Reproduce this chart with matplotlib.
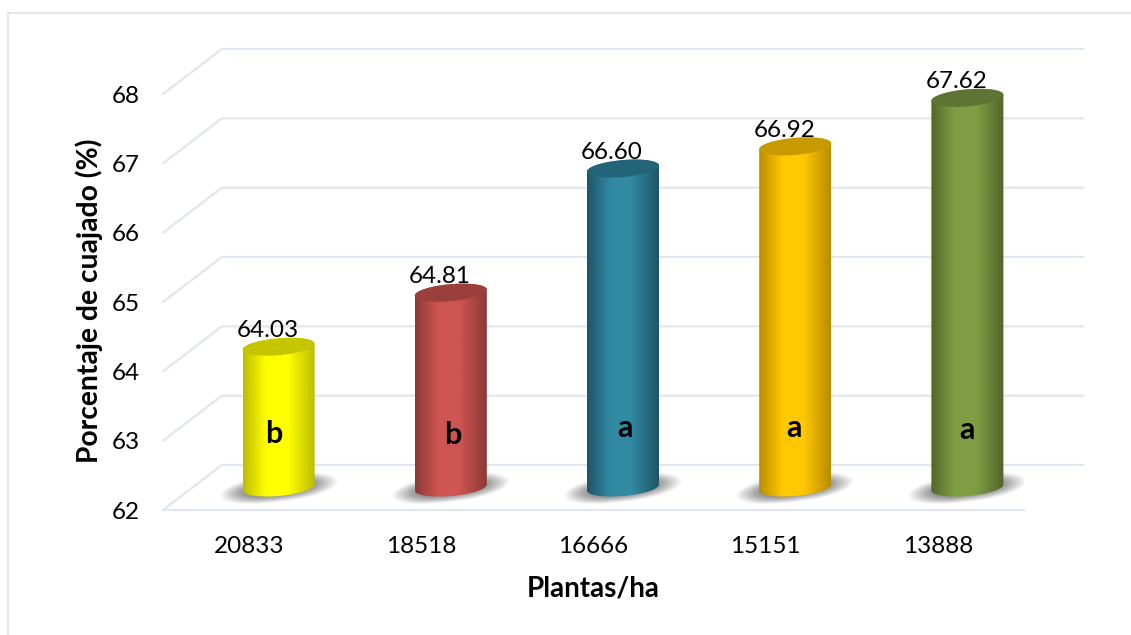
import numpy as np
import matplotlib
matplotlib.use('Agg')
import matplotlib.pyplot as plt
from matplotlib.colors import to_rgb
from matplotlib.lines import Line2D
from matplotlib.patches import PathPatch
from matplotlib.path import Path

plt.rcParams['font.family'] = ['Lato', 'DejaVu Sans']

# data
densidad = ['20833', '18518', '16666', '15151', '13888']
cuajado = [64.03, 64.81, 66.60, 66.92, 67.62]
letras = ['b', 'b', 'a', 'a', 'a']
y_ticks = [62, 63, 64, 65, 66, 67, 68]

# colores: centro, borde, tapa
centro = ['#FFFF00', '#CF5552', '#3289A3', '#FFC800', '#7F9E44']
borde = ['#BDBD00', '#8A3936', '#1F5566', '#B98C00', '#526629']
tapa = ['#C6C600', '#9A3F3C', '#236578', '#C69A00', '#5F7434']
GRID = '#E2E6ED'

W, H = 1131, 635
fig = plt.figure(figsize=(W / 100, H / 100), dpi=100)
fig.patch.set_facecolor('white')
# marco: solo arriba e izquierda
fig.add_artist(Line2D([1, 7.5 / W, 7.5 / W], [1 - 13 / H, 1 - 13 / H, 0], transform=fig.transFigure,
                      color=GRID, lw=1.4))

AX_H = 461
ax = fig.add_axes([163 / W, 1 - 510 / H, 861 / W, AX_H / H])
ax.set_facecolor('none')
for s in ax.spines.values():
    s.set_visible(False)

x_px = 861 / 5      # pixeles por categoria
y_px = 416 / 6      # pixeles por unidad
depth_x = 59 / x_px
depth_y = 45 / y_px

# piso y paredes en falsa perspectiva
ax.plot([-0.5, 4.5], [62, 62], color=GRID, lw=1.6, clip_on=False, zorder=1)
for v in y_ticks:
    ax.plot([-0.5, -0.5 + depth_x, 4.5 + depth_x], [v, v + depth_y, v + depth_y],
            color=GRID, lw=1.6, clip_on=False, zorder=1)

a = 36 / x_px
b = 8.5 / y_px
tilt = 3 / y_px


def ellipse_pts(cx, cy, t0, t1, n=40):
    t = np.linspace(t0, t1, n)
    return cx + a * np.cos(t), cy + b * np.sin(t) + tilt * np.cos(t)


def draw_shadow(cx, cy):
    u = np.linspace(-64, 64, 200)
    w = np.linspace(-24, 24, 90)
    uu, ww = np.meshgrid(u, w)
    r = np.abs(uu / 60) ** 2.4 + np.abs((ww + 1 - 0.12 * uu) / 14) ** 2
    alpha = np.clip((1 - r) * 1.3, 0, 1) ** 1.2 * 0.75
    img = np.zeros(uu.shape + (4,))
    img[..., :3] = 0.42
    img[..., 3] = alpha
    ax.imshow(img, origin='lower', aspect='auto', interpolation='bilinear', zorder=2,
              extent=[cx - 64 / x_px, cx + 64 / x_px, cy - 24 / y_px, cy + 24 / y_px])


def draw_bar(i, val):
    cx = i + depth_x / 2
    base = 62 + depth_y / 2
    top = val + depth_y / 2
    draw_shadow(cx, base)

    # silueta del cilindro: frente + media elipse inferior y superior
    xb, yb = ellipse_pts(cx, base, np.pi, 2 * np.pi)
    xt, yt = ellipse_pts(cx, top, 0, np.pi)
    verts = np.column_stack([np.r_[xb, xt], np.r_[yb, yt]])
    clip = PathPatch(Path(np.vstack([verts, verts[0]]), closed=True), transform=ax.transData,
                     fc='none', ec='none')
    ax.add_patch(clip)

    pos = np.linspace(0, 1, 128)
    c0 = np.array(to_rgb(centro[i]))
    c1 = np.array(to_rgb(borde[i]))
    k = np.interp(pos, [0, 0.32, 0.62, 1], [1, 0, 0, 1])
    grad = (c0 + (c1 - c0) * k[:, None])[None, :, :]
    im = ax.imshow(grad, aspect='auto', zorder=3, interpolation='bilinear',
                   extent=[cx - a, cx + a, 62, top + 1])
    im.set_clip_path(clip)

    # tapa
    xe, ye = ellipse_pts(cx, top, 0, 2 * np.pi, 80)
    ax.fill(xe, ye, color=tapa[i], lw=0, zorder=4)


for i, val in enumerate(cuajado):
    draw_bar(i, val)

# valores encima de cada barra
for i, val in enumerate(cuajado):
    ax.annotate(f'{val:.2f}', (i + depth_x / 2, val + depth_y / 2), xytext=(-11, 16),
                textcoords='offset pixels', ha='center', va='center', fontsize=17.5,
                color='black', zorder=6)

# letras de significancia
letra_off = [(-5, 7), (2, 6), (2, 13), (-1, 13), (0, 11)]
for i, (let, off) in enumerate(zip(letras, letra_off)):
    ax.annotate(let, (i + depth_x / 2, 63), xytext=off, textcoords='offset pixels',
                ha='center', va='center', fontsize=22, fontweight='bold', color='black', zorder=6)

ax.set_xlim(-0.5, 4.5)
ax.set_ylim(62, 62 + AX_H / y_px)
ax.set_xticks(range(len(densidad)), densidad)
ax.set_yticks(y_ticks)
ax.tick_params(axis='both', length=0, labelsize=17.5, labelcolor='black')
ax.tick_params(axis='x', pad=18.5)
ax.tick_params(axis='y', pad=17)

ax.set_xlabel('Plantas/ha', fontsize=20, fontweight='bold')
ax.set_ylabel('Porcentaje de cuajado (%)', fontsize=20.3, fontweight='bold')
ax.xaxis.set_label_coords(0.5, -66 / AX_H, transform=ax.transAxes)
ax.yaxis.set_label_coords(-60 / 861, (510 - 301) / AX_H, transform=ax.transAxes)

fig.savefig('out.png', dpi=100)
